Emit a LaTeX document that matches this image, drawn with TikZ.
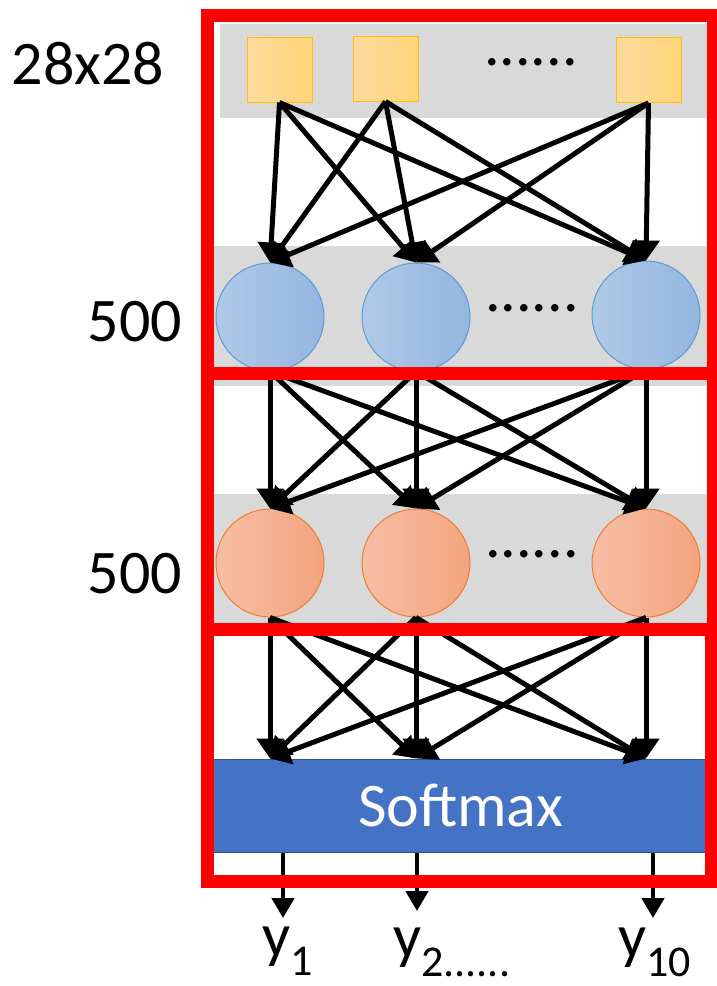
\documentclass[tikz,border=0pt]{standalone}
\usepackage{fontspec}
\setmainfont{Carlito}
\usetikzlibrary{arrows.meta}
\definecolor{bandgray}{HTML}{D9D9D9}
\definecolor{sqleft}{HTML}{FDDB9E}
\definecolor{sqright}{HTML}{FFD47A}
\definecolor{sqborder}{HTML}{FFC000}
\definecolor{blueleft}{HTML}{B0C9E7}
\definecolor{blueright}{HTML}{93B5E0}
\definecolor{blueborder}{HTML}{5B9BD5}
\definecolor{orleft}{HTML}{F6BEA5}
\definecolor{orright}{HTML}{F4A47E}
\definecolor{orborder}{HTML}{ED7D31}
\definecolor{smfill}{HTML}{4472C4}
\definecolor{smborder}{HTML}{2F528F}
\begin{document}
\begin{tikzpicture}[x=1pt, y=-1pt,
  pix/.style={rectangle, draw=sqborder, line width=1pt, left color=sqleft, right color=sqright, minimum size=65pt, inner sep=0pt},
  hid/.style={circle, draw=blueborder, line width=1pt, left color=blueleft, right color=blueright, minimum size=108pt, inner sep=0pt},
  hidb/.style={circle, draw=orborder, line width=1pt, left color=orleft, right color=orright, minimum size=108pt, inner sep=0pt},
  con/.style={-{Triangle[length=20pt,width=26pt]}, line width=5pt},
  outcon/.style={-{Triangle[length=20pt,width=22pt]}, line width=4.5pt},
  redbox/.style={draw=red, line width=13pt},
  big/.style={font=\fontsize{62}{62}\selectfont, inner sep=0pt}]

\useasboundingbox (0,0) rectangle (716,986);

% gray bands
\fill[bandgray] (220,24) rectangle (710,118);
\fill[bandgray] (213,246) rectangle (710,386);
\fill[bandgray] (213,494) rectangle (710,630);

% layers
\node[pix] (s1) at (279.5,69.5) {};
\node[pix] (s2) at (385.5,68.5) {};
\node[pix] (s3) at (648.5,70) {};
\node[big, anchor=base] (dots1) at (531,65) {......};

\node[hid] (h1) at (270,317) {};
\node[hid] (h2) at (416,317) {};
\node[hid] (h3) at (646,315) {};
\node[big, anchor=base] (dots2) at (532,311) {......};

\node[hidb] (o1) at (270,563) {};
\node[hidb] (o2) at (416,563) {};
\node[hidb] (o3) at (646,563) {};
\node[big, anchor=base] (dots3) at (532,557) {......};

\node[rectangle, draw=smborder, line width=1pt, fill=smfill, minimum width=495pt, minimum height=93pt, text=white, big] (sm) at (460.5,805.5) {Softmax};

% input -> hidden 1
\draw[con] (s1.south) -- (h1.north);
\draw[con] (s1.south) -- (h2.north);
\draw[con] (s1.south) -- (h3.north);
\draw[con] (s2.south) -- (h1.north);
\draw[con] (s2.south) -- (h2.north);
\draw[con] (s2.south) -- (h3.north);
\draw[con] (s3.south) -- (h1.north);
\draw[con] (s3.south) -- (h2.north);
\draw[con] (s3.south) -- (h3.north);

% hidden 1 -> hidden 2
\draw[con] (h1.south) -- (o1.north);
\draw[con] (h1.south) -- (o2.north);
\draw[con] (h1.south) -- (o3.north);
\draw[con] (h2.south) -- (o1.north);
\draw[con] (h2.south) -- (o2.north);
\draw[con] (h2.south) -- (o3.north);
\draw[con] (h3.south) -- (o1.north);
\draw[con] (h3.south) -- (o2.north);
\draw[con] (h3.south) -- (o3.north);

% hidden 2 -> softmax
\draw[con] (o1.south) -- (o1 |- sm.north);
\draw[con] (o1.south) -- (o2 |- sm.north);
\draw[con] (o1.south) -- (o3 |- sm.north);
\draw[con] (o2.south) -- (o1 |- sm.north);
\draw[con] (o2.south) -- (o2 |- sm.north);
\draw[con] (o2.south) -- (o3 |- sm.north);
\draw[con] (o3.south) -- (o1 |- sm.north);
\draw[con] (o3.south) -- (o2 |- sm.north);
\draw[con] (o3.south) -- (o3 |- sm.north);

% outputs
\coordinate (t1) at (283,918);
\coordinate (t2) at (417,911);
\coordinate (t3) at (653,918);
\draw[outcon] (sm.south -| t1) -- (t1);
\draw[outcon] (sm.south -| t2) -- (t2);
\draw[outcon] (sm.south -| t3) -- (t3);

% red boxes
\draw[redbox] (207,15) rectangle (713,373);
\draw[redbox] (207,373) rectangle (713,629);
\draw[redbox] (207,629) rectangle (711,881);

% labels
\node[big] (in) at (88,63.5) {28x28};
\node[big] (n1) at (135,322) {500};
\node[big] (n2) at (135,574) {500};
\node[big, anchor=base west] (y1) at (262,956) {y\raisebox{-19pt}{\fontsize{44}{44}\selectfont 1}};
\node[big, anchor=base west] (y2) at (393,957) {y\raisebox{-19pt}{\fontsize{44}{44}\selectfont 2......}};
\node[big, anchor=base west] (y3) at (618,957) {y\raisebox{-19pt}{\fontsize{44}{44}\selectfont 10}};

\end{tikzpicture}
\end{document}
